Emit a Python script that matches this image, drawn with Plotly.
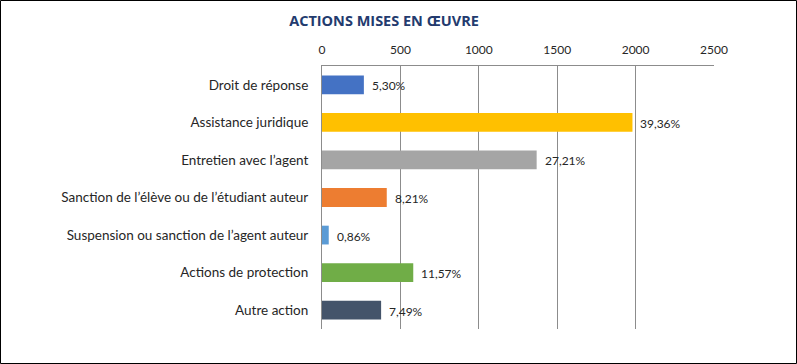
import plotly.graph_objects as go

categories = [
    "Droit de réponse",
    "Assistance juridique",
    "Entretien avec l’agent",
    "Sanction de l’élève ou de l’étudiant auteur",
    "Suspension ou sanction de l’agent auteur",
    "Actions de protection",
    "Autre action",
]
values = [267, 1980, 1369, 413, 43, 582, 377]
pct_labels = ["5,30%", "39,36%", "27,21%", "8,21%", "0,86%", "11,57%", "7,49%"]
colors = ["#4472C4", "#FFC000", "#A5A5A5", "#ED7D31", "#5B9BD5", "#70AD47", "#44546A"]
tick_vals = [0, 500, 1000, 1500, 2000, 2500]

W, H = 797, 364
ml, mr, mt, mb = 322, 83, 66, 35
pw, ph = W - ml - mr, H - mt - mb

fig = go.Figure(go.Bar(
    x=values, y=categories, orientation="h",
    marker=dict(color=colors, line=dict(width=0)),
    width=0.5, hoverinfo="skip",
))

for v, c, t in zip(values, categories, pct_labels):
    fig.add_annotation(x=v, y=c, text=t, showarrow=False, xanchor="left",
                       xshift=6, yshift=-1,
                       font=dict(family="Lato", size=12, color="#262626"))

fig.add_shape(type="rect", xref="paper", yref="paper",
              x0=(-ml + 0.5) / pw, x1=1 + (mr - 0.5) / pw,
              y0=(-mb + 0.5) / ph, y1=1 + (mt - 0.5) / ph,
              line=dict(color="#000000", width=1), layer="above")

fig.update_layout(
    width=W, height=H,
    margin=dict(l=ml, r=mr, t=mt, b=mb),
    paper_bgcolor="white", plot_bgcolor="white",
    showlegend=False,
    title=dict(text="<b>ACTIONS MISES EN ŒUVRE</b>", x=384 / W, xanchor="center",
               y=1 - 21 / H, yanchor="middle",
               font=dict(family="Open Sans", size=14.5, color="#233B6E")),
    xaxis=dict(side="top", range=[0, 2500], tickvals=tick_vals,
               showgrid=True, gridcolor="#8C8C8C", gridwidth=1,
               showline=True, linecolor="#8C8C8C", linewidth=1,
               zeroline=False, ticks="", ticklen=0, ticklabelstandoff=6,
               tickfont=dict(family="Lato", size=12, color="#262626"),
               fixedrange=True),
    yaxis=dict(autorange="reversed", showline=True, linecolor="#8C8C8C", linewidth=1,
               ticks="", showgrid=False, ticklabelstandoff=10,
               tickfont=dict(family="Lato", size=13.5, color="#262626"),
               fixedrange=True),
    bargap=0.5,
)

fig.write_html("out.html", config={"displayModeBar": False},
               post_script="document.body.style.margin='0px';")
